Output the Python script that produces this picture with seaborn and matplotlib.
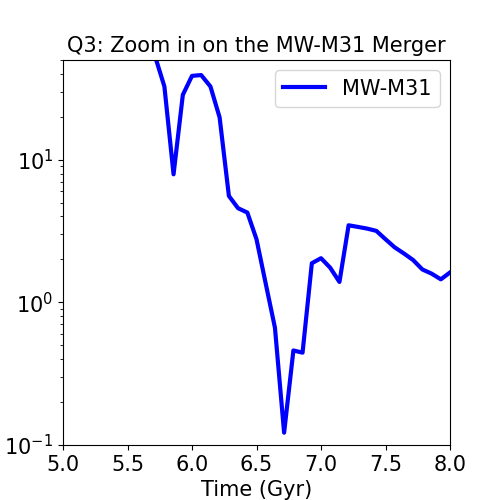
import numpy as np
import pandas as pd
import seaborn as sns
import matplotlib
matplotlib.use("Agg")
import matplotlib.pyplot as plt

# Time of each snapshot (Gyr) and MW-M31 separation values
time = [5.643, 5.714, 5.786, 5.857, 5.929, 6.000, 6.071, 6.143, 6.214, 6.286,
        6.357, 6.429, 6.500, 6.571, 6.643, 6.714, 6.786, 6.857, 6.929, 7.000,
        7.071, 7.143, 7.214, 7.286, 7.357, 7.429, 7.500, 7.571, 7.643, 7.714,
        7.786, 7.857, 7.929, 8.000]
sep = [70.0, 53.0, 32.6, 7.9, 28.5, 38.7, 39.2, 32.6, 19.8, 5.57,
       4.57, 4.26, 2.77, 1.36, 0.664, 0.122, 0.46, 0.444, 1.88, 2.04,
       1.75, 1.39, 3.47, 3.38, 3.29, 3.17, 2.77, 2.43, 2.20, 1.98,
       1.70, 1.59, 1.45, 1.62]

df = pd.DataFrame({"time": time, "sep": sep})

fig = plt.figure(figsize=(5, 5), dpi=100)
ax = fig.add_axes([0.126, 0.11, 0.774, 0.77])

sns.lineplot(data=df, x="time", y="sep", color="blue", linewidth=3,
             label="MW-M31", ax=ax)

ax.set_yscale("log")
ax.set_xlim(5, 8)
ax.set_ylim(0.1, 50)
ax.set_title("Q3: Zoom in on the MW-M31 Merger", fontsize=15)
ax.set_xlabel("Time (Gyr)", fontsize=15)
ax.set_ylabel("")
ax.tick_params(labelsize=15)
ax.legend(loc="upper right", fontsize=15)

fig.savefig("out.png", dpi=100)
